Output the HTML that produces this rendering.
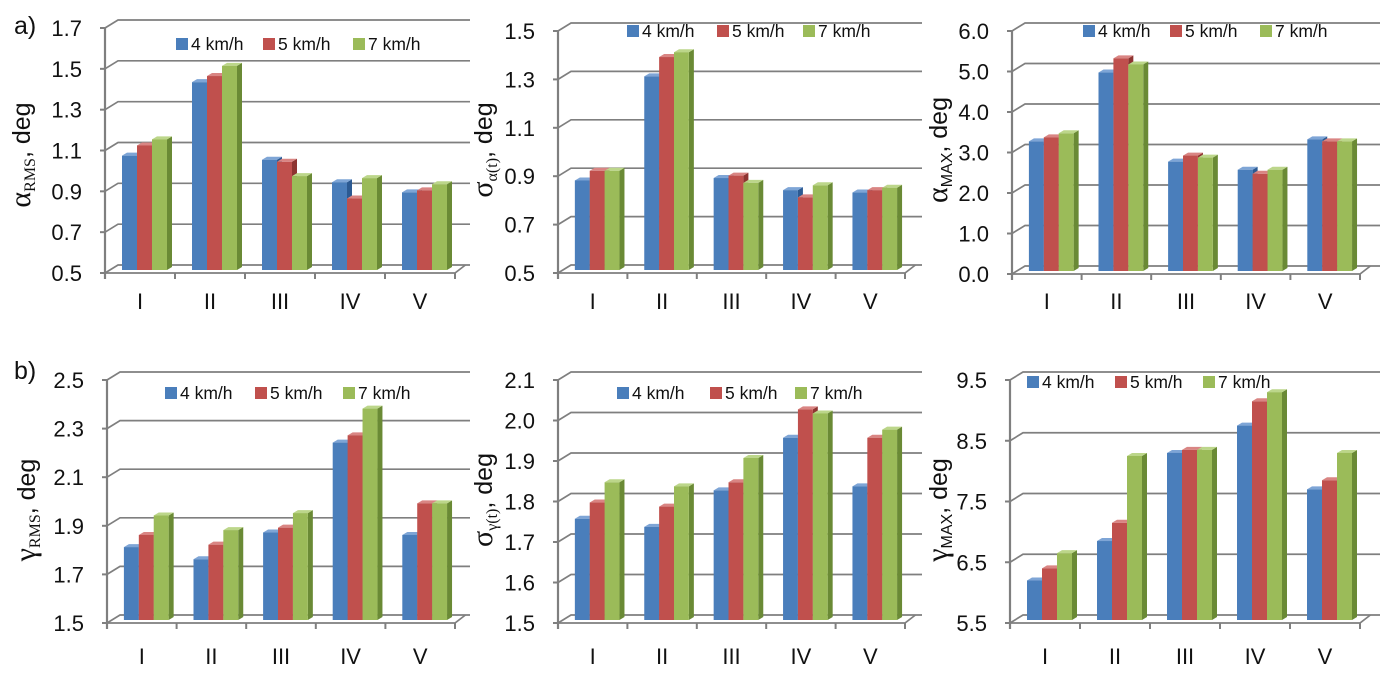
<!DOCTYPE html>
<html><head><meta charset="utf-8">
<style>
html,body{margin:0;padding:0;background:#fff;}
svg{display:block;font-family:"Liberation Sans",sans-serif;}
</style></head>
<body>
<svg id="fig" width="1386" height="679" viewBox="0 0 1386 679" xmlns="http://www.w3.org/2000/svg">
<text x="14" y="34" font-size="25" fill="#111">a)</text>
<text x="14" y="379" font-size="25" fill="#111">b)</text>
</svg>
<script>
// ---- data ----
const categories = ['I','II','III','IV','V'];
const seriesNames = ['4 km/h','5 km/h','7 km/h'];

const aRms4 = [1.06,1.42,1.04,0.93,0.88];
const aRms5 = [1.11,1.45,1.03,0.85,0.89];
const aRms7 = [1.14,1.50,0.96,0.95,0.92];
const aRmsTicks = ['0.5','0.7','0.9','1.1','1.3','1.5','1.7'];

const sA4 = [0.87,1.30,0.88,0.83,0.82];
const sA5 = [0.91,1.38,0.89,0.80,0.83];
const sA7 = [0.91,1.40,0.86,0.85,0.84];
const sATicks = ['0.5','0.7','0.9','1.1','1.3','1.5'];

const aMax4 = [3.2,4.9,2.7,2.5,3.25];
const aMax5 = [3.3,5.25,2.85,2.4,3.2];
const aMax7 = [3.4,5.1,2.8,2.5,3.2];
const aMaxTicks = ['0.0','1.0','2.0','3.0','4.0','5.0','6.0'];

const gRms4 = [1.80,1.75,1.86,2.23,1.85];
const gRms5 = [1.85,1.81,1.88,2.26,1.98];
const gRms7 = [1.93,1.87,1.94,2.37,1.98];
const gRmsTicks = ['1.5','1.7','1.9','2.1','2.3','2.5'];

const sG4 = [1.75,1.73,1.82,1.95,1.83];
const sG5 = [1.79,1.78,1.84,2.02,1.95];
const sG7 = [1.84,1.83,1.90,2.01,1.97];
const sGTicks = ['1.5','1.6','1.7','1.8','1.9','2.0','2.1'];

const gMax4 = [6.15,6.8,8.25,8.7,7.65];
const gMax5 = [6.35,7.1,8.3,9.1,7.8];
const gMax7 = [6.6,8.2,8.3,9.25,8.25];
const gMaxTicks = ['5.5','6.5','7.5','8.5','9.5'];

// ---- layout (positions only) ----
const layouts = [
 {id:'alpha-rms', ax:105, top:28, bot:273, right:470, last:455, legX:[176,263,353], legY:44, tx:30, ty:155, sym:'α', sub:'RMS', subSerif:true, xly:301, s:[aRms4,aRms5,aRms7], t:aRmsTicks},
 {id:'sigma-alpha', ax:558, top:31, bot:273, right:922, last:905, legX:[627,717,803], legY:31, tx:492, ty:150, sym:'σ', sub:'α(t)', subSerif:true, xly:301, s:[sA4,sA5,sA7], t:sATicks},
 {id:'alpha-max', ax:1012, top:31, bot:274, right:1380, last:1360, legX:[1083,1170,1260], legY:31, tx:947, ty:150, sym:'α', sub:'MAX', subSerif:false, xly:301, s:[aMax4,aMax5,aMax7], t:aMaxTicks},
 {id:'gamma-rms', ax:107, top:380, bot:623, right:470, last:455, legX:[165,255,343], legY:393, tx:35, ty:510, sym:'γ', sub:'RMS', subSerif:true, xly:656, s:[gRms4,gRms5,gRms7], t:gRmsTicks},
 {id:'sigma-gamma', ax:558, top:380, bot:623, right:922, last:905, legX:[617,710,795], legY:393, tx:492, ty:500, sym:'σ', sub:'γ(t)', subSerif:true, xly:656, s:[sG4,sG5,sG7], t:sGTicks},
 {id:'gamma-max', ax:1010, top:380, bot:623, right:1380, last:1360, legX:[1027,1115,1203], legY:382, tx:947, ty:510, sym:'γ', sub:'MAX', subSerif:false, xly:656, s:[gMax4,gMax5,gMax7], t:gMaxTicks}
];
const fronts = ['#4a7ebb','#c0504d','#9bbb59'];
const sides = ['#2c5a92','#8e3431','#6a8a35'];
const tops = ['#7ea5d6','#d98583','#bcd68a'];

const NS='http://www.w3.org/2000/svg';
const svg=document.getElementById('fig');
function mk(tag,attrs,parent){const e=document.createElementNS(NS,tag);for(const k in attrs)e.setAttribute(k,attrs[k]);(parent||svg).appendChild(e);return e;}

const DX=13, DY=-8;
layouts.forEach(L=>{
  const g=mk('g',{});
  
  
  const vals=L.t.map(Number);
  const vmin=vals[0], vmax=vals[vals.length-1];
  const y=v=>L.bot-(v-vmin)/(vmax-vmin)*(L.bot-L.top);
  const catW=(L.last-L.ax)/categories.length;
  const xc=i=>L.ax+catW*i;
  L.t.forEach(t=>{
    const v=Number(t), yy=y(v);
    const p=mk('polyline',{points:`${L.ax},${yy} ${L.ax+DX},${yy+DY} ${L.right},${yy+DY}`,fill:'none',stroke:'#7f7f7f','stroke-width':1.7},g);
    
    
    const tk=mk('line',{x1:L.ax-5,y1:yy,x2:L.ax,y2:yy,stroke:'#7f7f7f','stroke-width':2},g);
    
    
    const lb=mk('text',{x:L.ax-23,y:yy+8,'text-anchor':'end','font-size':22,fill:'#111'},g);
    lb.textContent=t;
    
    
  });
  const fl=mk('polyline',{points:`${L.ax},${L.bot} ${L.last},${L.bot} ${L.last+DX*0.8},${L.bot+DY}`,fill:'none',stroke:'#7f7f7f','stroke-width':1.7},g);
  
  
  const ya=mk('line',{x1:L.ax,y1:L.top,x2:L.ax,y2:L.bot+6,stroke:'#7f7f7f','stroke-width':2.2},g);
  
  
  for(let i=0;i<=categories.length;i++){
    const tk=mk('line',{x1:xc(i),y1:L.bot,x2:xc(i),y2:L.bot+6,stroke:'#7f7f7f','stroke-width':2},g);
    
    
  }
  const bw=catW*15/70, off=catW*17/70, bdx=5, bdy=-3, sh=-3;
  categories.forEach((c,i)=>{
    for(let s=0;s<3;s++){
      const v=L.s[s][i];
      const x0=xc(i)+off+s*bw, x1=x0+bw;
      const yt=y(v)+sh, yb=L.bot+sh;
      const bg=mk('g',{},g);
      
      
      mk('polygon',{points:`${x1},${yt} ${x1+bdx},${yt+bdy} ${x1+bdx},${yb+bdy} ${x1},${yb}`,fill:sides[s]},bg);
      mk('polygon',{points:`${x0},${yt} ${x0+bdx},${yt+bdy} ${x1+bdx},${yt+bdy} ${x1},${yt}`,fill:tops[s]},bg);
      mk('rect',{x:x0,y:yt,width:bw,height:yb-yt,fill:fronts[s]},bg);
    }
    const xl=mk('text',{x:xc(i)+catW/2,y:L.xly+8,'text-anchor':'middle','font-size':22,fill:'#111'},g);
    xl.textContent=c;
    
    
  });
  seriesNames.forEach((n,s)=>{
    const lg=mk('g',{},g);
    
    
    mk('rect',{x:L.legX[s],y:L.legY-6,width:12,height:12,fill:fronts[s]},lg);
    const tx=mk('text',{x:L.legX[s]+15,y:L.legY+6,'font-size':17.5,fill:'#111'},lg);
    tx.textContent=n;
  });
  const tt=mk('text',{transform:`translate(${L.tx},${L.ty}) rotate(-90)`,'text-anchor':'middle','font-size':25,fill:'#111'},g);
  
  
  const t1=mk('tspan',{'font-family':'Liberation Serif, serif','font-size':30},tt); t1.textContent=L.sym;
  const t2=mk('tspan',{'font-family':L.subSerif?'Liberation Serif, serif':'Liberation Sans, sans-serif','font-size':16,dy:5},tt); t2.textContent=L.sub;
  const t3=mk('tspan',{dy:-5},tt); t3.textContent=', deg';
});
</script>
</body></html>
